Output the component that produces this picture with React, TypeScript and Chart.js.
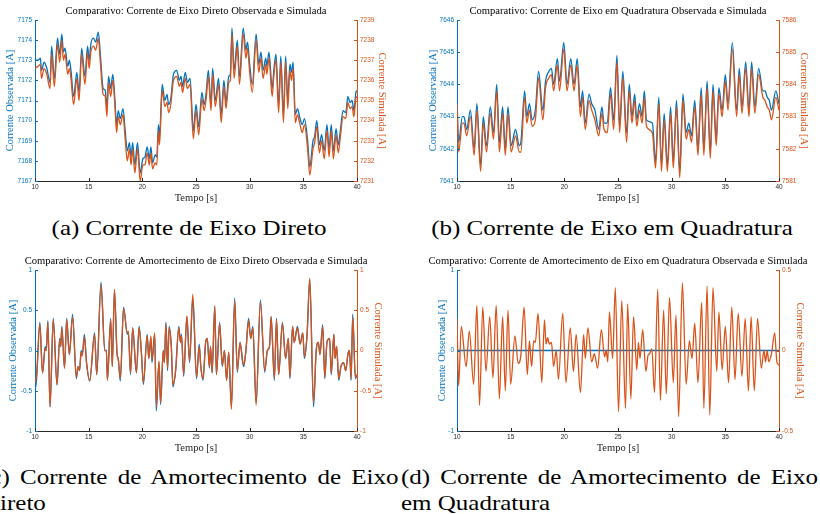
import React, { useEffect, useRef } from 'react';
import { Chart, registerables } from 'chart.js';

Chart.register(...registerables);

const BLUE = '#0072BD';
const ORANGE = '#D95319';
const AXIS = '#262626';
const SERIF = '"Liberation Serif", "Times New Roman", serif';
const SANS = '"Liberation Sans", Arial, sans-serif';

const X_TITLE = 'Tempo [s]';
const Y_LEFT_TITLE = 'Corrente Observada [A]';
const Y_RIGHT_TITLE = 'Corrente Simulada [A]';

// ---------- (a) Corrente de Eixo Direto ----------
const tA = [
  10, 10.3, 10.5, 10.6, 10.85, 11.1, 11.4, 11.55, 11.8, 12.1,
  12.3, 12.5, 12.65, 12.8, 13.05, 13.2, 13.35, 13.6, 13.9, 14.1,
  14.35, 14.65, 14.9, 15.05, 15.2, 15.45, 15.65, 15.9, 16.1, 16.35,
  16.55, 16.7, 16.85, 17.05, 17.25, 17.45, 17.6, 17.75, 17.95, 18.2,
  18.4, 18.6, 18.8, 18.95, 19.1, 19.3, 19.55, 19.8, 20.05, 20.25,
  20.45, 20.65, 20.8, 20.95, 21.2, 21.35, 21.5, 21.6, 21.85, 22.1,
  22.3, 22.45, 22.65, 22.9, 23.2, 23.45, 23.6, 23.75, 24.0, 24.2,
  24.45, 24.75, 25.0, 25.25, 25.55, 25.75, 25.95, 26.15, 26.4, 26.55,
  26.8, 27.1, 27.35, 27.6, 27.8, 28.05, 28.2, 28.35, 28.55, 28.85,
  29.05, 29.4, 29.65, 29.8, 30.0, 30.25, 30.6, 30.85, 31.05, 31.25,
  31.5, 31.6, 31.8, 32.1, 32.25, 32.45, 32.7, 32.9, 33.15, 33.35,
  33.55, 33.75, 33.9, 34.05, 34.25, 34.45, 34.65, 34.9, 35.1, 35.4,
  35.6, 35.9, 36.05, 36.25, 36.5, 36.7, 36.95, 37.2, 37.4, 37.6,
  37.8, 38.05, 38.25, 38.45, 38.7, 38.95, 39.15, 39.35, 39.55, 39.7,
  39.9, 40,
];
const obsA = [
  7173.0, 7173.0, 7173.1, 7172.5, 7172.9, 7172.6, 7171.9, 7173.7, 7172.1, 7174.1,
  7173.3, 7174.3, 7173.4, 7173.6, 7172.7, 7173.0, 7172.5, 7171.2, 7172.4, 7171.4,
  7173.6, 7172.2, 7173.7, 7173.0, 7173.8, 7174.1, 7173.9, 7174.4, 7173.2, 7171.6,
  7171.5, 7170.6, 7172.2, 7171.6, 7172.3, 7171.0, 7169.8, 7170.5, 7170.1, 7170.6,
  7169.5, 7168.5, 7168.9, 7168.2, 7168.9, 7167.8, 7168.9, 7167.4, 7168.1, 7168.2,
  7168.7, 7168.1, 7168.7, 7167.9, 7168.3, 7168.2, 7169.8, 7169.2, 7171.8, 7171.0,
  7171.3, 7170.8, 7171.1, 7172.3, 7172.5, 7172.0, 7172.2, 7171.7, 7172.4, 7171.9,
  7172.1, 7169.5, 7170.8, 7169.7, 7171.4, 7170.8, 7171.4, 7172.5, 7170.8, 7172.6,
  7171.0, 7172.1, 7170.3, 7172.0, 7170.9, 7172.2, 7172.3, 7174.6, 7172.5, 7174.0,
  7172.2, 7174.6, 7173.5, 7173.9, 7172.8, 7171.8, 7174.3, 7172.8, 7173.4, 7172.5,
  7173.1, 7172.7, 7173.4, 7171.6, 7172.5, 7173.3, 7170.8, 7173.2, 7170.3, 7173.2,
  7171.0, 7172.8, 7172.4, 7172.9, 7170.3, 7170.6, 7170.2, 7169.8, 7170.1, 7169.0,
  7167.7, 7169.0, 7169.2, 7170.0, 7168.8, 7169.3, 7168.5, 7169.8, 7168.6, 7169.8,
  7168.5, 7169.6, 7168.8, 7169.5, 7170.5, 7170.4, 7171.2, 7170.9, 7171.0, 7170.5,
  7171.4, 7171.5,
];
const simA = [
  7236.6, 7236.7, 7236.8, 7236.1, 7236.6, 7236.3, 7235.6, 7237.3, 7235.7, 7237.8,
  7236.9, 7238.0, 7237.0, 7237.3, 7236.3, 7236.6, 7236.1, 7234.8, 7236.1, 7235.0,
  7237.3, 7235.8, 7237.4, 7236.6, 7237.4, 7237.7, 7237.5, 7238.1, 7236.8, 7235.3,
  7235.2, 7234.2, 7235.9, 7235.2, 7236.0, 7234.7, 7233.4, 7234.2, 7233.8, 7234.3,
  7233.1, 7232.0, 7232.6, 7231.8, 7232.6, 7231.4, 7232.6, 7231.0, 7231.8, 7231.8,
  7232.4, 7231.8, 7232.4, 7231.6, 7231.9, 7231.8, 7233.5, 7232.8, 7235.5, 7234.7,
  7234.9, 7234.4, 7234.8, 7236.0, 7236.2, 7235.7, 7235.9, 7235.4, 7236.1, 7235.6,
  7235.8, 7233.1, 7234.5, 7233.3, 7235.1, 7234.5, 7235.1, 7236.2, 7234.5, 7236.3,
  7234.7, 7235.8, 7233.9, 7235.7, 7234.6, 7235.9, 7236.0, 7238.3, 7236.1, 7237.7,
  7235.8, 7238.3, 7237.1, 7237.6, 7236.4, 7235.4, 7238.0, 7236.4, 7237.1, 7236.1,
  7236.8, 7236.3, 7237.1, 7235.2, 7236.2, 7237.0, 7234.4, 7236.9, 7233.9, 7236.9,
  7234.6, 7236.5, 7236.0, 7236.6, 7233.9, 7234.3, 7233.9, 7233.4, 7233.8, 7232.6,
  7231.3, 7232.6, 7232.9, 7233.7, 7232.4, 7233.0, 7232.1, 7233.5, 7232.2, 7233.5,
  7232.1, 7233.3, 7232.4, 7233.2, 7234.2, 7234.1, 7234.9, 7234.6, 7234.7, 7234.2,
  7235.1, 7235.2,
];

// ---------- (b) Corrente de Eixo em Quadratura ----------
const tB = [
  10, 10.15, 10.5, 10.65, 10.9, 11.25, 11.6, 11.85, 12.2, 12.45,
  12.75, 13.1, 13.4, 13.7, 13.95, 14.25, 14.5, 14.75, 15.05, 15.45,
  15.8, 15.95, 16.3, 16.5, 16.75, 17.0, 17.3, 17.6, 18.0, 18.25,
  18.55, 18.8, 19.0, 19.35, 19.55, 19.95, 20.25, 20.6, 20.9, 21.2,
  21.5, 21.7, 21.95, 22.3, 22.55, 22.85, 23.2, 23.5, 23.7, 24.0,
  24.3, 24.6, 24.9, 25.15, 25.45, 25.8, 26.05, 26.3, 26.55, 26.75,
  27.0, 27.25, 27.45, 27.65, 28.2, 28.5, 28.8, 29.05, 29.3, 29.6,
  29.9, 30.15, 30.45, 30.75, 31.05, 31.35, 31.6, 31.85, 32.15, 32.45,
  32.75, 33.0, 33.3, 33.6, 33.85, 34.15, 34.4, 34.7, 35.0, 35.25,
  35.65, 36.05, 36.3, 36.55, 36.9, 37.2, 37.45, 37.75, 38.1, 38.5,
  38.7, 38.9, 39.1, 39.3, 39.7, 40,
];
const obsB = [
  7643.6, 7642.2, 7643.0, 7643.0, 7642.6, 7643.2, 7642.0, 7643.4, 7641.5, 7643.0,
  7642.1, 7643.3, 7642.5, 7644.0, 7642.2, 7643.3, 7642.0, 7643.3, 7642.1, 7642.6,
  7642.1, 7642.2, 7643.8, 7643.0, 7643.4, 7642.9, 7643.2, 7644.4, 7643.2, 7644.1,
  7644.4, 7644.5, 7644.0, 7644.8, 7644.1, 7645.3, 7644.0, 7644.8, 7644.0, 7644.8,
  7643.3, 7643.8, 7642.8, 7643.7, 7643.4, 7643.2, 7642.6, 7643.3, 7642.8, 7642.8,
  7643.9, 7642.9, 7644.9, 7642.7, 7644.4, 7642.5, 7644.0, 7643.0, 7643.7, 7642.9,
  7643.4, 7643.0, 7643.8, 7642.9, 7642.8, 7641.6, 7643.6, 7641.5, 7643.1, 7641.5,
  7643.3, 7641.6, 7643.5, 7641.3, 7643.7, 7642.5, 7642.8, 7642.4, 7643.5, 7642.0,
  7643.9, 7642.0, 7644.1, 7641.9, 7644.0, 7642.3, 7643.9, 7643.2, 7644.3, 7643.4,
  7645.3, 7643.2, 7644.5, 7643.3, 7644.7, 7643.2, 7644.7, 7643.3, 7644.5, 7643.8,
  7643.8, 7643.6, 7643.5, 7643.2, 7643.8, 7643.4,
];
const simB = [
  7583.4, 7581.9, 7582.8, 7582.8, 7582.4, 7583.0, 7581.8, 7583.2, 7581.3, 7582.8,
  7581.9, 7583.1, 7582.3, 7583.8, 7581.9, 7583.1, 7581.8, 7583.1, 7581.9, 7582.4,
  7581.9, 7581.9, 7583.6, 7582.8, 7583.2, 7582.7, 7582.9, 7584.2, 7582.9, 7583.9,
  7584.2, 7584.3, 7583.8, 7584.6, 7583.8, 7585.1, 7583.8, 7584.6, 7583.8, 7584.6,
  7583.0, 7583.6, 7582.6, 7583.5, 7583.2, 7582.9, 7582.4, 7583.1, 7582.6, 7582.5,
  7583.7, 7582.6, 7584.7, 7582.5, 7584.2, 7582.2, 7583.8, 7582.8, 7583.5, 7582.7,
  7583.2, 7582.8, 7583.6, 7582.7, 7582.5, 7581.4, 7583.4, 7581.3, 7582.9, 7581.3,
  7583.1, 7581.4, 7583.3, 7581.1, 7583.5, 7582.3, 7582.6, 7582.2, 7583.3, 7581.8,
  7583.7, 7581.8, 7583.9, 7581.7, 7583.8, 7582.1, 7583.7, 7583.0, 7584.1, 7583.2,
  7585.1, 7583.0, 7584.3, 7583.1, 7584.5, 7583.0, 7584.5, 7583.1, 7584.3, 7583.6,
  7583.5, 7583.3, 7583.2, 7582.9, 7583.6, 7583.2,
];

// ---------- (c) Corrente de Amortecimento de Eixo Direto ----------
const tC = [
  10, 10.15, 10.45, 10.7, 10.95, 11.05, 11.2, 11.4, 11.7, 12.05,
  12.3, 12.4, 12.5, 12.75, 12.95, 13.2, 13.5, 13.85, 14.0, 14.15,
  14.3, 14.4, 14.6, 14.8, 15.1, 15.55, 15.75, 16.15, 16.5, 16.65,
  16.75, 17.05, 17.2, 17.4, 17.65, 17.75, 17.95, 18.25, 18.6, 18.7,
  18.9, 19.1, 19.45, 19.7, 19.9, 20.1, 20.45, 20.6, 20.8, 20.9,
  21.15, 21.3, 21.55, 21.7, 21.95, 22.05, 22.2, 22.35, 22.5, 22.7,
  22.85, 23.1, 23.4, 23.55, 23.65, 23.85, 24.15, 24.4, 24.7, 25.05,
  25.3, 25.45, 25.65, 25.9, 26.05, 26.25, 26.35, 26.5, 26.75, 26.9,
  27.2, 27.45, 27.65, 27.85, 28.05, 28.3, 28.6, 28.85, 29.1, 29.35,
  29.45, 29.65, 29.9, 30.1, 30.3, 30.6, 31.0, 31.4, 31.65, 31.85,
  32.0, 32.3, 32.5, 32.7, 33.05, 33.35, 33.6, 33.75, 34.0, 34.15,
  34.45, 34.7, 34.95, 35.1, 35.35, 35.6, 35.95, 36.2, 36.4, 36.55,
  36.8, 37.0, 37.2, 37.45, 37.6, 37.85, 37.95, 38.1, 38.3, 38.5,
  38.75, 38.95, 39.15, 39.3, 39.45, 39.6, 39.85, 40,
];
const obsC = [
  -0.5, -0.35, 0.35, -0.28, 0.05, 0.0, 0.37, -0.7, 0.4, -0.43,
  0.15, 0.05, 0.3, -0.22, 0.4, -0.05, 0.45, -0.35, -0.2, -0.25,
  0.0, -0.05, 0.2, -0.15, -0.38, 0.22, -0.3, 0.85, 0.0, 0.0,
  -0.37, 0.4, -0.2, 0.75, -0.05, -0.1, -0.38, 0.54, 0.2, 0.22,
  -0.3, 0.28, -0.28, 0.3, 0.0, -0.42, 0.2, -0.1, 0.15, -0.15,
  0.2, -0.75, -0.15, -0.67, 0.0, -0.15, 0.35, -0.25, 0.3, 0.05,
  -0.45, -0.25, 0.3, 0.1, 0.2, -0.32, 0.42, -0.15, 0.65, -0.35,
  0.08, -0.2, -0.37, 0.1, 0.15, -0.22, 0.05, -0.28, 0.55, -0.3,
  0.35, -0.2, 0.0, -0.37, -0.02, -0.7, 0.65, -0.27, 0.1, -0.15,
  -0.2, 0.0, 0.4, 0.15, 0.3, -0.65, 0.63, -0.27, 0.0, 0.05,
  0.42, -0.37, 0.4, -0.3, 0.35, -0.1, 0.15, -0.35, 0.3, 0.1,
  0.3, 0.08, 0.22, -0.1, 0.2, 0.88, -0.7, 0.0, 0.1, -0.05,
  0.32, -0.35, 0.1, 0.15, -0.3, 0.2, -0.1, 0.05, -0.37, -0.2,
  -0.15, -0.25, -0.05, 0.0, -0.37, 0.45, -0.35, -0.3,
];
const simC = [
  -0.4, -0.3, 0.33, -0.28, 0.03, 0.0, 0.35, -0.7, 0.38, -0.42,
  0.13, 0.05, 0.28, -0.22, 0.38, -0.05, 0.42, -0.33, -0.2, -0.25,
  -0.02, -0.07, 0.17, -0.15, -0.37, 0.2, -0.3, 0.82, 0.0, 0.0,
  -0.37, 0.38, -0.2, 0.76, -0.05, -0.1, -0.35, 0.52, 0.22, 0.24,
  -0.28, 0.28, -0.27, 0.28, 0.0, -0.4, 0.18, -0.1, 0.18, -0.12,
  0.22, -0.7, -0.13, -0.65, 0.0, -0.15, 0.33, -0.22, 0.28, 0.05,
  -0.43, -0.25, 0.28, 0.1, 0.18, -0.3, 0.43, -0.13, 0.7, -0.33,
  0.05, -0.2, -0.35, 0.1, 0.15, -0.2, 0.05, -0.27, 0.55, -0.3,
  0.33, -0.18, 0.0, -0.37, -0.02, -0.73, 0.62, -0.25, 0.1, -0.13,
  -0.18, 0.0, 0.37, 0.15, 0.28, -0.68, 0.6, -0.25, 0.0, 0.05,
  0.42, -0.35, 0.38, -0.3, 0.33, -0.1, 0.15, -0.33, 0.3, 0.1,
  0.28, 0.08, 0.22, -0.08, 0.2, 0.9, -0.65, 0.0, 0.1, -0.05,
  0.3, -0.33, 0.1, 0.15, -0.28, 0.2, -0.1, 0.05, -0.35, -0.2,
  -0.15, -0.25, -0.05, 0.0, -0.35, 0.42, -0.33, -0.3,
];

// ---------- (d) Corrente de Amortecimento de Eixo em Quadratura ----------
const tDObs = [10, 40];
const obsD = [0, 0];
const tD = [
  10, 10.15, 10.4, 10.85, 11.15, 11.55, 11.85, 12.1, 12.4, 12.7,
  13.05, 13.35, 13.65, 13.95, 14.25, 14.5, 14.75, 15.0, 15.4, 15.7,
  15.95, 16.25, 16.55, 16.75, 16.95, 17.15, 17.3, 17.55, 17.9, 18.15,
  18.3, 18.45, 18.6, 18.8, 19.0, 19.25, 19.45, 19.85, 20.15, 20.55,
  20.85, 21.1, 21.5, 21.8, 21.95, 22.2, 22.55, 22.8, 23.1, 23.45,
  23.75, 23.9, 24.05, 24.2, 24.5, 24.75, 25.05, 25.35, 25.7, 25.9,
  26.2, 26.45, 26.75, 26.9, 27.05, 27.3, 27.6, 27.8, 27.95, 28.15,
  28.4, 28.7, 28.95, 29.25, 29.5, 29.8, 30.15, 30.4, 30.65, 31.0,
  31.35, 31.65, 31.9, 32.15, 32.45, 32.8, 33.0, 33.3, 33.55, 33.85,
  34.2, 34.4, 34.7, 35.0, 35.3, 35.6, 35.9, 36.2, 36.55, 36.85,
  37.15, 37.4, 37.7, 38.0, 38.35, 38.6, 38.75, 38.9, 39.05, 39.3,
  39.6, 39.8, 40,
];
const simD = [
  0.2, -0.22, 0.15, -0.1, 0.12, -0.21, 0.28, -0.34, 0.27, -0.13,
  0.21, -0.17, 0.28, -0.3, 0.21, -0.25, 0.25, -0.21, 0.09, -0.08,
  -0.03, 0.27, -0.15, 0.06, -0.1, 0.06, 0.05, 0.23, -0.2, 0.19,
  0.04, 0.08, 0.04, 0.05, -0.1, 0.0, -0.18, 0.23, -0.2, 0.14,
  -0.13, 0.1, -0.26, 0.1, -0.05, 0.14, -0.07, -0.02, -0.11, 0.13,
  -0.04, 0.0, -0.07, 0.24, -0.05, 0.39, -0.38, 0.31, -0.36, 0.29,
  -0.3, 0.21, -0.12, 0.05, -0.05, 0.13, -0.13, -0.03, -0.02, 0.01,
  -0.26, 0.38, -0.31, 0.25, -0.27, 0.33, -0.2, 0.22, -0.41, 0.42,
  -0.21, 0.06, -0.05, 0.17, -0.2, 0.3, -0.36, 0.4, -0.4, 0.39,
  -0.13, 0.24, -0.12, 0.15, -0.2, 0.27, -0.18, 0.23, -0.16, 0.2,
  -0.25, 0.21, -0.25, 0.2, -0.11, 0.0, -0.07, 0.0, -0.07, -0.02,
  0.11, -0.07, -0.09,
];

const pts = (xs: number[], ys: number[]) => xs.map((x, i) => ({ x, y: ys[i] }));

const panelTitlePlugin = {
  id: 'panelTitle',
  afterDraw(chart: any, _args: any, opts: any) {
    const { ctx, chartArea } = chart;
    ctx.save();
    ctx.font = `10.6px ${SERIF}`;
    ctx.fillStyle = '#000';
    ctx.textAlign = 'center';
    ctx.textBaseline = 'middle';
    ctx.fillText(opts.text, (chartArea.left + chartArea.right) / 2, opts.y);
    ctx.restore();
  },
};

const inwardTicksPlugin = {
  id: 'inwardTicks',
  afterDatasetsDraw(chart: any) {
    const { ctx, chartArea } = chart;
    ctx.save();
    ctx.lineWidth = 1;
    for (const id of ['x', 'y', 'y1']) {
      const s = chart.scales[id];
      if (!s) continue;
      ctx.strokeStyle = s.options.border.color;
      for (const t of s.ticks) {
        const p = Math.round(s.getPixelForValue(t.value)) + 0.5;
        ctx.beginPath();
        if (id === 'x') {
          ctx.moveTo(p, chartArea.bottom);
          ctx.lineTo(p, chartArea.bottom - 3);
        } else if (id === 'y') {
          ctx.moveTo(chartArea.left, p);
          ctx.lineTo(chartArea.left + 3, p);
        } else {
          ctx.moveTo(chartArea.right, p);
          ctx.lineTo(chartArea.right - 3, p);
        }
        ctx.stroke();
      }
    }
    ctx.restore();
  },
};

type PanelProps = {
  left: number;
  top: number;
  width: number;
  height: number;
  areaLeft: number;
  areaRight: number;
  title: string;
  tObs: number[];
  obs: number[];
  tSim: number[];
  sim: number[];
  yMin: number;
  yMax: number;
  yStep: number;
  y1Min: number;
  y1Max: number;
  y1Step: number;
  leftTitleX: number;
  rightTitleX: number;
};

function Panel(p: PanelProps) {
  const ref = useRef<HTMLCanvasElement | null>(null);
  useEffect(() => {
    if (!ref.current) return;
    const lh = 10.5 * 1.2;
    const leftW = p.areaLeft - p.left;
    const rightW = p.left + p.width - p.areaRight;
    const leftPad = p.leftTitleX - p.left - lh / 2;
    const rightPad = p.left + p.width - p.rightTitleX - lh / 2;
    const tickFont = { family: SANS, size: 6.5 };
    const chart = new Chart(ref.current, {
      type: 'line',
      data: {
        datasets: [
          {
            label: 'Simulada',
            data: pts(p.tSim, p.sim),
            yAxisID: 'y1',
            borderColor: ORANGE,
            borderWidth: 1.3,
            pointRadius: 0,
            cubicInterpolationMode: 'monotone',
            fill: false,
            order: 0,
          },
          {
            label: 'Observada',
            data: pts(p.tObs, p.obs),
            yAxisID: 'y',
            borderColor: BLUE,
            borderWidth: 1.3,
            pointRadius: 0,
            cubicInterpolationMode: 'monotone',
            fill: false,
            order: 1,
          },
        ],
      },
      options: {
        animation: false,
        responsive: false,
        maintainAspectRatio: false,
        events: [],
        layout: { padding: { top: 20, left: 0, right: 0, bottom: 0 } },
        plugins: {
          legend: { display: false },
          tooltip: { enabled: false },
          title: { display: false },
          panelTitle: { text: p.title, y: 11 },
        } as any,
        scales: {
          x: {
            type: 'linear',
            min: 10,
            max: 40,
            ticks: { stepSize: 5, color: AXIS, font: tickFont, padding: 2, maxRotation: 0, callback: (v: any) => String(v) },
            grid: { display: false, drawTicks: false },
            border: { color: AXIS, width: 1 },
            title: { display: true, text: X_TITLE, color: AXIS, font: { family: SERIF, size: 10.5 }, padding: { top: 0, bottom: 0.7 } },
            afterFit: (s: any) => { s.height = p.height - 181; },
          },
          y: {
            type: 'linear',
            position: 'left',
            min: p.yMin,
            max: p.yMax,
            ticks: { stepSize: p.yStep, color: BLUE, font: tickFont, padding: 3, callback: (v: any) => String(v) },
            grid: { display: false, drawTicks: false },
            border: { color: BLUE, width: 1 },
            title: { display: true, text: Y_LEFT_TITLE, color: BLUE, font: { family: SERIF, size: 10.5 }, padding: { top: leftPad, bottom: 0 } },
            afterFit: (s: any) => { s.width = leftW; },
          },
          y1: {
            type: 'linear',
            position: 'right',
            min: p.y1Min,
            max: p.y1Max,
            ticks: { stepSize: p.y1Step, color: ORANGE, font: tickFont, padding: 3, callback: (v: any) => String(v) },
            grid: { display: false, drawTicks: false },
            border: { color: ORANGE, width: 1 },
            title: { display: true, text: Y_RIGHT_TITLE, color: ORANGE, font: { family: SERIF, size: 10.5 }, padding: { top: rightPad, bottom: 0 } },
            afterFit: (s: any) => { s.width = rightW; },
          },
        },
      } as any,
      plugins: [panelTitlePlugin, inwardTicksPlugin],
    });
    return () => chart.destroy();
  }, []);
  return (
    <canvas
      ref={ref}
      width={p.width}
      height={p.height}
      style={{ position: 'absolute', left: p.left, top: p.top, width: p.width, height: p.height }}
    />
  );
}

const SX = 1.19;

const capStyle: React.CSSProperties = {
  position: 'absolute',
  fontFamily: SERIF,
  fontSize: 21,
  lineHeight: '26px',
  color: '#000',
  whiteSpace: 'nowrap',
};

function CenterCaption({ cx, top, text }: { cx: number; top: number; text: string }) {
  return (
    <div
      style={{
        ...capStyle,
        left: cx - 250,
        width: 500,
        top,
        textAlign: 'center',
        transform: `scaleX(${SX})`,
        transformOrigin: 'center top',
      }}
    >
      {text}
    </div>
  );
}

function JustCaption({ left, width, top, text, justify }: { left: number; width: number; top: number; text: string; justify: boolean }) {
  return (
    <div
      style={{
        ...capStyle,
        left,
        width: width / SX,
        top,
        textAlign: justify ? 'justify' : 'left',
        textAlignLast: (justify ? 'justify' : 'left') as any,
        transform: `scaleX(${SX})`,
        transformOrigin: 'left top',
      }}
    >
      {text}
    </div>
  );
}

export default function App() {
  return (
    <div style={{ position: 'absolute', left: 0, top: 0, width: 820, height: 514, overflow: 'hidden', background: '#fff' }}>
      <Panel
        left={0} top={0} width={410} height={205} areaLeft={35} areaRight={357}
        title="Comparativo: Corrente de Eixo Direto Observada e Simulada"
        tObs={tA} obs={obsA} tSim={tA} sim={simA}
        yMin={7167} yMax={7175} yStep={1} y1Min={7231} y1Max={7239} y1Step={1}
        leftTitleX={10} rightTitleX={382}
      />
      <Panel
        left={410} top={0} width={410} height={205} areaLeft={457} areaRight={779}
        title="Comparativo: Corrente de Eixo em Quadratura Observada e Simulada"
        tObs={tB} obs={obsB} tSim={tB} sim={simB}
        yMin={7641} yMax={7646} yStep={1} y1Min={7581} y1Max={7586} y1Step={1}
        leftTitleX={433} rightTitleX={804}
      />
      <Panel
        left={0} top={250} width={410} height={205} areaLeft={35} areaRight={357}
        title="Comparativo: Corrente de Amortecimento de Eixo Direto Observada e Simulada"
        tObs={tC} obs={obsC} tSim={tC} sim={simC}
        yMin={-1} yMax={1} yStep={0.5} y1Min={-1} y1Max={1} y1Step={0.5}
        leftTitleX={13} rightTitleX={378}
      />
      <Panel
        left={410} top={250} width={410} height={205} areaLeft={457} areaRight={779}
        title="Comparativo: Corrente de Amortecimento de Eixo em Quadratura Observada e Simulada"
        tObs={tDObs} obs={obsD} tSim={tD} sim={simD}
        yMin={-1} yMax={1} yStep={1} y1Min={-0.5} y1Max={0.5} y1Step={0.5}
        leftTitleX={442} rightTitleX={800}
      />

      <CenterCaption cx={188.5} top={215} text="(a) Corrente de Eixo Direto" />
      <CenterCaption cx={611.5} top={215} text="(b) Corrente de Eixo em Quadratura" />

      <JustCaption left={-18.5} width={416.5} top={464} text="(c) Corrente de Amortecimento de Eixo" justify={true} />
      <JustCaption left={-18.5} width={416.5} top={490} text="Direto" justify={false} />
      <JustCaption left={401} width={417} top={464} text="(d) Corrente de Amortecimento de Eixo" justify={true} />
      <JustCaption left={401} width={417} top={490} text="em Quadratura" justify={false} />
    </div>
  );
}
